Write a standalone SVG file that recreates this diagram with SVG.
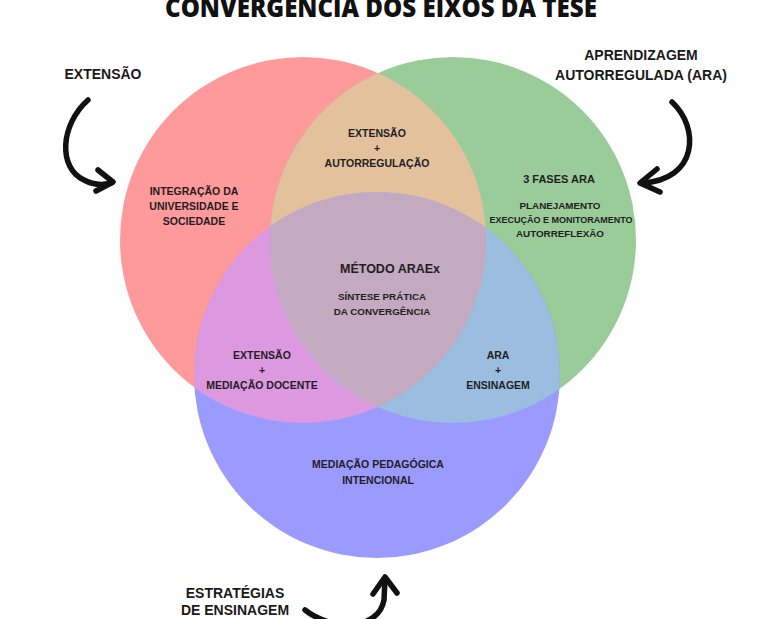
<svg xmlns="http://www.w3.org/2000/svg" width="768" height="619" viewBox="0 0 768 619">
<style>
.t{font-family:"Liberation Sans",Arial,sans-serif;font-weight:bold;fill:#231d23;text-anchor:middle}
.s10{font-size:10.5px}
.s9{font-size:9.8px}
.s14{font-size:14px;fill:#1a1a1a}
.title{font-family:"Open Sans","Noto Sans",sans-serif;font-weight:800;font-size:27px;fill:#111;text-anchor:middle}
.arr{fill:none;stroke:#111;stroke-width:5.5;stroke-linecap:round;stroke-linejoin:round}
</style>
<defs>
<clipPath id="cR"><circle cx="303" cy="240" r="183"/></clipPath>
<clipPath id="cG"><circle cx="453" cy="240" r="183"/></clipPath>
<clipPath id="cRG" clip-path="url(#cR)"><circle cx="453" cy="240" r="183"/></clipPath>
</defs>
<rect width="768" height="619" fill="#fff"/>
<text class="title" x="381" y="17" textLength="432" lengthAdjust="spacingAndGlyphs">CONVERGÊNCIA DOS EIXOS DA TESE</text>

<g id="circle-extensao">
<circle cx="303" cy="240" r="183" fill="#ff9a9a"/>
</g>
<g id="circle-ara">
<circle cx="453" cy="240" r="183" fill="#9acc9a"/>
</g>
<g id="circle-ensinagem">
<circle cx="377" cy="375" r="183" fill="#9b9bff"/>
</g>
<g id="overlap-extensao-ara">
<circle cx="453" cy="240" r="183" fill="#e2c19c" clip-path="url(#cR)"/>
</g>
<g id="overlap-extensao-ensinagem">
<circle cx="377" cy="375" r="183" fill="#dd99e0" clip-path="url(#cR)"/>
</g>
<g id="overlap-ara-ensinagem">
<circle cx="377" cy="375" r="183" fill="#9bbde0" clip-path="url(#cG)"/>
</g>
<g id="center-araex">
<circle cx="377" cy="375" r="183" fill="#c3aac0" clip-path="url(#cRG)"/>
</g>

<g id="label-extensao">
<text class="t s14" x="103" y="79">EXTENSÃO</text>
</g>
<g id="label-ara">
<text class="t s14" x="641" y="60">APRENDIZAGEM</text>
<text class="t s14" x="641" y="80">AUTORREGULADA (ARA)</text>
</g>
<g id="label-estrategias">
<text class="t s14" x="235" y="598">ESTRATÉGIAS</text>
<text class="t s14" x="235" y="615">DE ENSINAGEM</text>
</g>

<g id="text-integracao">
<text class="t s10" x="194" y="195">INTEGRAÇÃO DA</text>
<text class="t s10" x="194" y="210">UNIVERSIDADE E</text>
<text class="t s10" x="194" y="225">SOCIEDADE</text>
</g>
<g id="text-ext-auto">
<text class="t s10" x="377" y="137">EXTENSÃO</text>
<text class="t s10" x="377" y="152">+</text>
<text class="t s10" x="377" y="167">AUTORREGULAÇÃO</text>
</g>
<g id="text-fases">
<text class="t" style="font-size:11px" x="559" y="183">3 FASES ARA</text>
<text class="t s9" x="560" y="209">PLANEJAMENTO</text>
<text class="t" style="font-size:9px" x="561" y="223">EXECUÇÃO E MONITORAMENTO</text>
<text class="t s9" x="560" y="237">AUTORREFLEXÃO</text>
</g>
<g id="text-metodo">
<text class="t" style="font-size:12.5px" x="390" y="273">MÉTODO ARAEx</text>
<text class="t s9" x="382" y="300">SÍNTESE PRÁTICA</text>
<text class="t s9" x="382" y="315">DA CONVERGÊNCIA</text>
</g>
<g id="text-ext-mediacao">
<text class="t s10" x="262" y="359">EXTENSÃO</text>
<text class="t s10" x="262" y="374">+</text>
<text class="t s10" x="262" y="389">MEDIAÇÃO DOCENTE</text>
</g>
<g id="text-ara-ensinagem">
<text class="t s10" x="498" y="359">ARA</text>
<text class="t s10" x="498" y="374">+</text>
<text class="t s10" x="498" y="389">ENSINAGEM</text>
</g>
<g id="text-mediacao">
<text class="t s10" x="378" y="468">MEDIAÇÃO PEDAGÓGICA</text>
<text class="t s10" x="378" y="484">INTENCIONAL</text>
</g>

<g id="connectors">
<path class="arr" d="M88,100 C60,125 58,168 84,180 C95,186 104,185 111,183"/>
<path class="arr" d="M98,170 L113,182 L96,191"/>
<path class="arr" d="M672,102 C700,128 698,180 642,183"/>
<path class="arr" d="M657,169 L640,183 L660,192"/>
<path class="arr" d="M305,610 C330,630 378,632 384,600 L385,579"/>
<path class="arr" d="M373,594 L385,577 L397,593"/>
</g>
</svg>
